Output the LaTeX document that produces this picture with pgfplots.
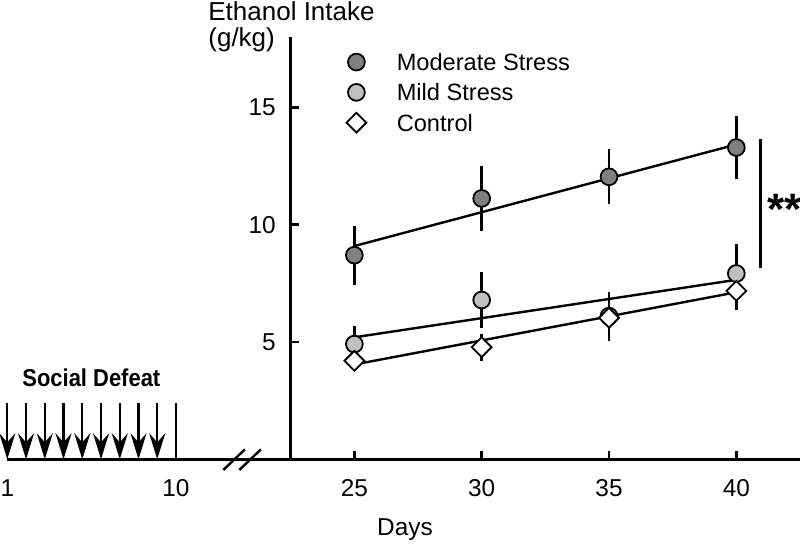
\documentclass[border=0pt]{standalone}
\usepackage{fontspec}
\setmainfont{Liberation Sans}
\usepackage{pgfplots}
\pgfplotsset{compat=1.18}
\usetikzlibrary{arrows.meta}
\definecolor{modgray}{HTML}{808080}
\definecolor{mildgray}{HTML}{C0C0C0}
\pgfplotsset{
  myax/.style={scale only axis, ymin=0, ymax=18, height=211.15pt, clip=false,
    axis line style={line width=1.2pt, black},
    tick style={line width=1.2pt, black},
    /pgf/number format/assume math mode=true,
    xticklabel style={anchor=base, yshift=-18.7pt, inner sep=0pt},
  },
}
\begin{document}
\fontsize{12.2}{14.6}\selectfont
\begin{tikzpicture}
\useasboundingbox (0,0) rectangle (400pt,271.5pt);

% ---------- left segment: days 1-10 ----------
\begin{axis}[myax, at={(3.65pt,41.85pt)}, anchor=south west, width=141.7pt,
  xmin=1, xmax=16.12, axis x line*=bottom, axis y line=none,
  xtick={1,10}, major tick length=0pt, ytick=\empty]
\addplot[black, line width=1.2pt, quiver={u=0, v=\thisrow{v}},
  -{Stealth[length=13pt, width=8pt, inset=4.5pt]}] table {
x y v
1 2.39 -2.39
2 2.39 -2.39
3 2.39 -2.39
4 2.39 -2.39
5 2.39 -2.39
6 2.39 -2.39
7 2.39 -2.39
8 2.39 -2.39
9 2.39 -2.39
};
\addplot[black, line width=1.2pt] coordinates {(10,0) (10,2.39)};
\end{axis}

\node[anchor=base west, font=\bfseries, inner sep=0pt] at (11.0pt,78.15pt) {\scalebox{0.9}[1]{Social Defeat}};
\draw[line width=1.2pt] (111.65pt,36.5pt) -- (122.5pt,46.85pt);
\draw[line width=1.2pt] (119.65pt,36.5pt) -- (130.5pt,46.85pt);

% ---------- right segment: days 25-40 ----------
\begin{axis}[myax, at={(145.35pt,41.85pt)}, anchor=south west, width=254.65pt,
  xmin=22.5, xmax=42.5, axis lines*=left,
  xtick={25,30,35,40}, ytick={5,10,15},
  tick align=inside, major tick length=4.3pt,
  yticklabel style={anchor=east, inner sep=0pt, xshift=-7.3pt},
  legend cell align=left,
  legend image code/.code={\path (-6pt,-6pt) (20pt,6pt); \draw[#1] plot coordinates {(0pt,0pt)};},
  legend style={draw=none, fill=none, inner sep=0pt, outer sep=0pt,
    at={(0.1047,0.9700)}, anchor=north west, row sep=2.75pt, column sep=0pt,
    nodes={inner sep=0pt, text depth=0pt, font=\fontsize{11.8}{14}\selectfont}},
  error bars/error bar style={line width=1.2pt, black},
]
% regression lines
\addplot[black, line width=1.2pt, forget plot] coordinates {(25,9.09) (40,13.42)};
\addplot[black, line width=1.2pt, forget plot] coordinates {(25,5.20) (40,7.65)};
\addplot[black, line width=1.2pt, forget plot] coordinates {(25,4.04) (40,7.12)};
% Moderate Stress
\addplot[only marks, mark=*, mark size=4.2pt, mark options={fill=modgray, draw=black, line width=0.9pt},
  error bars/.cd, y dir=both, y explicit, error mark=none] table[x=x, y=y, y error=e] {
x y e
25 8.70 1.25
30 11.12 1.38
35 12.04 1.17
40 13.29 1.35
};
\addlegendentry{Moderate Stress}
% Mild Stress
\addplot[only marks, mark=*, mark size=4.2pt, mark options={fill=mildgray, draw=black, line width=0.9pt},
  error bars/.cd, y dir=both, y explicit, error mark=none] table[x=x, y=y, y error=e] {
x y e
25 4.91 0.77
30 6.79 1.18
35 6.10 1.05
40 7.92 1.25
};
\addlegendentry{Mild Stress}
% Control
\addplot[only marks, mark=square*, mark size=3.5pt, mark options={rotate=45, fill=white, draw=black, line width=0.9pt},
  error bars/.cd, y dir=both, y explicit, error mark=none] table[x=x, y=y, y error=e] {
x y e
25 4.20 0.30
30 4.78 0.58
35 6.03 0.90
40 7.18 0.80
};
\addlegendentry{Control}
% significance bracket
\draw[line width=1.2pt] (axis cs:40.95,8.14) -- (axis cs:40.95,13.64);
\node[anchor=base, font=\fontsize{22}{24}\selectfont\bfseries, inner sep=0pt] at (axis cs:41.89,10.0) {**};
\end{axis}

% titles
\node[anchor=base west, font=\fontsize{13}{15}\selectfont, inner sep=0pt] at (104pt,261.5pt) {Ethanol Intake};
\node[anchor=base west, font=\fontsize{13}{15}\selectfont, inner sep=0pt] at (104pt,248.15pt) {(g/kg)};
\node[anchor=base, inner sep=0pt] at (202.5pt,4pt) {Days};
\end{tikzpicture}
\end{document}
